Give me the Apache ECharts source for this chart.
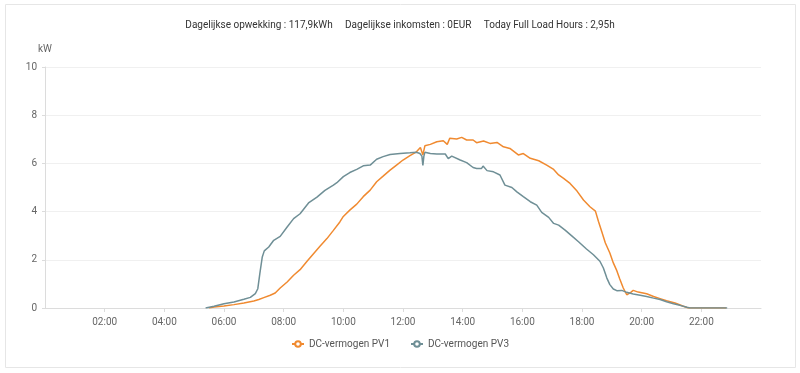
<!DOCTYPE html>
<html>
<head>
<meta charset="utf-8">
<script src="https://cdn.jsdelivr.net/npm/echarts@6/dist/echarts.min.js"></script>
<style>
html,body{margin:0;padding:0;background:#fff;}
#chart{width:800px;height:373px;}
</style>
</head>
<body>
<div id="chart"></div>
<script>
const titleText = 'Dagelijkse opwekking : 117,9kWh     Dagelijkse inkomsten : 0EUR     Today Full Load Hours : 2,95h';
const seriesNames = ['DC-vermogen PV1', 'DC-vermogen PV3'];
const yUnit = 'kW';
const xTickHours = ['00:00','02:00','04:00','06:00','08:00','10:00','12:00','14:00','16:00','18:00','20:00','22:00','24:00'];

const pv1Times = ['05:30','05:40','06:00','06:20','06:40','07:00','07:10','07:20','07:33','07:43','07:53','08:07','08:20','08:33','08:47','09:00','09:13','09:27','09:40','09:53','10:00','10:13','10:27','10:40','10:54','11:07','11:20','11:34','11:47','12:00','12:14','12:27','12:35','12:40','12:44','12:55','13:08','13:21','13:29','13:34','13:48','13:58','14:08','14:21','14:28','14:42','14:55','15:09','15:22','15:35','15:52','16:02','16:16','16:33','16:49','17:03','17:13','17:23','17:36','17:50','18:03','18:16','18:27','18:33','18:40','18:47','18:56','19:03','19:10','19:16','19:23','19:30','19:33','19:38','19:43','19:53','20:10','20:24','20:37','20:50','21:07','21:24','21:34','22:50'];
const pv1Values = [0,0.04,0.08,0.14,0.21,0.29,0.35,0.43,0.53,0.62,0.83,1.08,1.36,1.59,1.94,2.25,2.56,2.88,3.22,3.57,3.80,4.06,4.31,4.62,4.89,5.24,5.47,5.72,5.93,6.14,6.32,6.48,6.66,6.35,6.73,6.79,6.90,6.94,6.79,7.04,7.01,7.08,6.97,6.97,6.86,6.93,6.83,6.87,6.69,6.62,6.35,6.41,6.21,6.11,5.93,5.75,5.52,5.38,5.17,4.85,4.48,4.20,4.02,3.60,3.15,2.70,2.28,1.87,1.55,1.20,0.83,0.55,0.48,0.65,0.73,0.66,0.59,0.48,0.39,0.30,0.21,0.07,0,0];

const pv3Times = ['05:23','05:40','06:00','06:20','06:40','06:53','07:03','07:08','07:12','07:17','07:21','07:30','07:40','07:53','08:07','08:20','08:33','08:50','09:07','09:23','09:40','09:47','10:00','10:13','10:27','10:40','10:54','11:07','11:20','11:34','11:54','12:14','12:27','12:34','12:38','12:40','12:42','12:44','12:55','13:08','13:25','13:31','13:38','13:55','14:08','14:21','14:28','14:38','14:41','14:49','15:02','15:15','15:25','15:39','15:49','16:02','16:16','16:29','16:39','16:53','17:03','17:13','17:26','17:40','17:53','18:09','18:23','18:36','18:43','18:50','18:56','19:03','19:10','19:20','19:30','19:43','19:57','20:10','20:24','20:37','20:50','21:04','21:17','21:31','21:37','22:52'];
const pv3Values = [0,0.07,0.18,0.25,0.36,0.44,0.60,0.80,1.42,2.12,2.37,2.53,2.81,2.97,3.36,3.71,3.91,4.36,4.60,4.88,5.10,5.20,5.45,5.62,5.75,5.90,5.93,6.17,6.28,6.37,6.41,6.44,6.46,6.41,6.30,5.92,6.30,6.46,6.41,6.39,6.39,6.20,6.30,6.14,6.03,5.83,5.79,5.79,5.89,5.70,5.65,5.52,5.10,5.00,4.82,4.62,4.41,4.27,3.97,3.76,3.51,3.44,3.23,2.98,2.75,2.45,2.21,1.94,1.66,1.24,0.97,0.79,0.72,0.73,0.65,0.58,0.53,0.48,0.41,0.35,0.26,0.18,0.11,0.03,0,0];

function toMin(t){const p=t.split(':');return (+p[0])*60+(+p[1]);}
function pairs(ts, vs){return ts.map((t,i)=>[toMin(t), vs[i]]);}
function fmt(m){const h=Math.floor(m/60), mm=m%60;return String(h).padStart(2,'0')+':'+String(mm).padStart(2,'0');}

const chart = echarts.init(document.getElementById('chart'), null, {renderer:'canvas'});
const FONT = 'Roboto, "Liberation Sans", Arial, sans-serif';
chart.setOption({
  animation:false,
  textStyle:{fontFamily:FONT},
  graphic:[{type:'rect',shape:{x:5.5,y:4.5,width:790,height:363},style:{fill:'none',stroke:'#e6e6e6',lineWidth:1},silent:true}],
  title:{text:titleText,left:'center',top:15,textStyle:{fontSize:10,fontWeight:'normal',color:'#333',fontFamily:FONT}},
  color:['#F08A30','#6F8F96'],
  legend:{data:seriesNames,left:'center',top:334,itemWidth:12,itemHeight:7,itemGap:20,textStyle:{fontSize:10,color:'#555',fontFamily:FONT}},
  grid:{left:45,right:39,top:67,bottom:65,containLabel:false},
  xAxis:{type:'value',min:toMin(xTickHours[0]),max:toMin(xTickHours[xTickHours.length-1]),interval:120,
    axisLine:{lineStyle:{color:'#dcdcdc'}},axisTick:{show:true,length:4,lineStyle:{color:'#dcdcdc'}},
    axisLabel:{showMinLabel:false,showMaxLabel:false,color:'#666',fontSize:10,margin:9,fontFamily:FONT,formatter:v=>fmt(v)},
    splitLine:{show:false}},
  yAxis:{type:'value',min:0,max:10,interval:2,name:yUnit,nameGap:13,nameTextStyle:{color:'#666',fontSize:10,align:'center',fontFamily:FONT},
    axisLine:{show:true,lineStyle:{color:'#dcdcdc'}},axisTick:{show:true,length:3,lineStyle:{color:'#dcdcdc'}},
    axisLabel:{color:'#666',fontSize:10,margin:8,fontFamily:FONT},
    splitLine:{lineStyle:{color:'#f0f0f0'}}},
  series:[
    {name:seriesNames[0],type:'line',showSymbol:false,symbol:'emptyCircle',data:pairs(pv1Times,pv1Values),lineStyle:{width:1.5}},
    {name:seriesNames[1],type:'line',showSymbol:false,symbol:'emptyCircle',data:pairs(pv3Times,pv3Values),lineStyle:{width:1.5}}
  ]
});
</script>
</body>
</html>
